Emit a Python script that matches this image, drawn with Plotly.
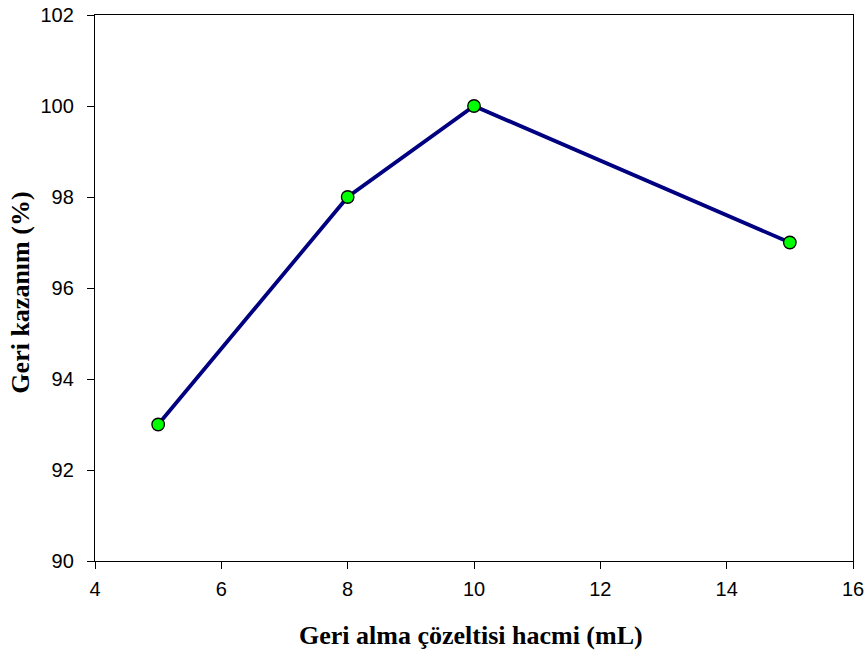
import plotly.graph_objects as go

# Recovery vs. stripping-solution volume
hacim = [5, 8, 10, 15]
geri_kazanim = [93, 98, 100, 97]

x_ticks = [4, 6, 8, 10, 12, 14, 16]
y_ticks = [90, 92, 94, 96, 98, 100, 102]

fig = go.Figure(
    go.Scatter(
        x=hacim,
        y=geri_kazanim,
        mode="lines+markers",
        line=dict(color="#000080", width=3.8),
        marker=dict(color="#00FF00", size=12.5, line=dict(color="black", width=1.3)),
        showlegend=False,
    )
)

axis_common = dict(
    showline=True,
    linecolor="black",
    linewidth=1.3,
    mirror=True,
    ticks="outside",
    ticklen=7,
    tickwidth=1.3,
    tickcolor="black",
    showgrid=False,
    zeroline=False,
    automargin=False,
    tickfont=dict(family="Liberation Sans, Arial", size=20, color="black"),
)

fig.update_xaxes(range=[4, 16], tickvals=x_ticks, ticklabelstandoff=3, **axis_common)
fig.update_yaxes(range=[90, 102], tickvals=y_ticks, ticklabelstandoff=9, **axis_common)

title_font = dict(family="Liberation Serif, Times New Roman", size=26, color="black")
fig.add_annotation(
    text="<b>Geri alma çözeltisi hacmi (mL)</b>",
    xref="paper", yref="paper", x=0.496, y=-0.137,
    xanchor="center", yanchor="middle", showarrow=False, font=title_font,
)
fig.add_annotation(
    text="<b>Geri kazanım (%)</b>",
    xref="paper", yref="paper", x=-0.098, y=0.491,
    xanchor="center", yanchor="middle", showarrow=False, textangle=-90, font=title_font,
)

fig.update_layout(
    width=867,
    height=655,
    margin=dict(l=95, r=14, t=15, b=94),
    plot_bgcolor="white",
    paper_bgcolor="white",
)

fig.write_html("out.html")
